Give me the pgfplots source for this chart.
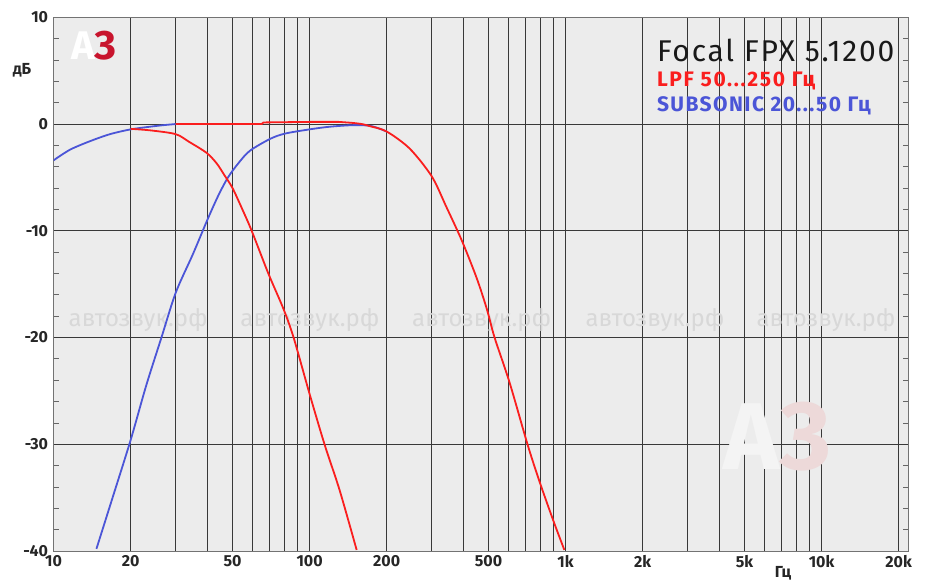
\documentclass[border=0pt]{standalone}
\usepackage{pgfplots}
\pgfplotsset{compat=1.18}
\usepackage{fontspec}
\setmainfont{Fira Sans}
\definecolor{bg}{RGB}{236,236,236}
\definecolor{cred}{RGB}{250,30,30}
\definecolor{cblue}{RGB}{75,85,215}
\definecolor{wm}{RGB}{216,216,216}
\definecolor{logored}{RGB}{200,20,45}
\begin{document}
\begin{tikzpicture}
\begin{axis}[
  scale only axis, width=854.4pt, height=533.7pt,
  xmode=log, xmin=10, xmax=21760, ymin=-40, ymax=10,
  axis background/.style={fill=bg},
  xtick={10,20,30,40,50,60,70,80,90,100,200,300,400,500,600,700,800,900,1000,2000,3000,4000,5000,6000,7000,8000,9000,10000,20000},
  xticklabels={10,20,,,50,,,,,100,200,,,500,,,,,1k,2k,,,5k,,,,,10k,20k},
  minor xtick={},
  ytick={-40,-30,-20,-10,0,10},
  yticklabels={-40,-30,-20,-10,0,10},
  minor y tick num=4,
  tick align=inside,
  major tick length=0pt, minor tick length=5pt,
  xmajorgrids, ymajorgrids,
  major grid style={black!78, line width=0.9pt},
  minor tick style={black!60, line width=0.8pt},
  axis line style={black!55, line width=1pt},
  tick label style={font=\fontsize{16}{16}\selectfont\bfseries, text=black!85},
  yticklabel style={xshift=-2pt},
  xticklabel style={yshift=-1pt},
  clip=true,
]
\node[text=wm, font=\fontsize{24}{24}\selectfont] at (rel axis cs:0.099,0.433) {автозвук.рф};
\node[text=wm, font=\fontsize{24}{24}\selectfont] at (rel axis cs:0.300,0.433) {автозвук.рф};
\node[text=wm, font=\fontsize{24}{24}\selectfont] at (rel axis cs:0.501,0.433) {автозвук.рф};
\node[text=wm, font=\fontsize{24}{24}\selectfont] at (rel axis cs:0.704,0.433) {автозвук.рф};
\node[text=wm, font=\fontsize{24}{24}\selectfont] at (rel axis cs:0.904,0.433) {автозвук.рф};
\node[text=white!40!bg, font=\fontsize{95}{95}\selectfont\bfseries] at (rel axis cs:0.847,0.214) {A\textcolor{red!8!bg}{З}};

\addplot[cblue, line width=1.8pt, smooth] coordinates {
(10,-3.4) (11.6,-2.4) (13.9,-1.6) (16.6,-0.95) (20,-0.5) (23.8,-0.25) (27,-0.1) (30,0)
};
\addplot[cblue, line width=1.8pt, smooth] coordinates {
(14.7,-39.8) (17,-35) (20,-29.6) (23,-24.5) (26.3,-20.1) (30,-15.8) (35,-12.2) (40,-8.9) (44,-6.7) (48,-5.0) (53,-3.6) (58.5,-2.5) (70,-1.4) (80,-0.9) (100,-0.5) (120,-0.25) (150,-0.1) (175,-0.2) (200,-0.7)
};
\addplot[cred, line width=1.8pt, smooth] coordinates {
(20,-0.45) (24,-0.6) (30,-0.95) (34,-1.7) (39.6,-2.7) (43.4,-3.7) (46.5,-4.8) (50,-6.0) (54.4,-7.9) (59.4,-10.0) (69,-14.0) (79,-17.3) (86.6,-20) (100.3,-25.4) (114.7,-30.1) (131,-34.3) (152.7,-39.9)
};
\addplot[cred, line width=1.8pt] coordinates {
(30,0) (65,0) (66,0.15) (100,0.2) (130,0.2) (145,0.12)
};
\addplot[cred, line width=1.8pt, smooth] coordinates {
(145,0.12) (160,0) (172,-0.2) (200,-0.7) (246,-2.3) (300,-4.9) (342,-7.75) (393,-10.9) (449,-14.4) (492,-17.3) (528,-20.0) (604,-24.2) (712,-30.1) (794,-33.6) (897,-37.2) (989,-39.9)
};

\node[anchor=base west, inner sep=0pt, font=\fontsize{30}{30}\selectfont\addfontfeatures{LetterSpace=6}, text=black!90] at (rel axis cs:0.706,0.918) {Focal FPX 5.1200};
\node[anchor=base west, inner sep=0pt, font=\fontsize{21}{21}\selectfont\bfseries\addfontfeatures{LetterSpace=8}, text=cred] at (rel axis cs:0.706,0.871) {LPF 50...250 Гц};
\node[anchor=base west, inner sep=0pt, font=\fontsize{21}{21}\selectfont\bfseries\addfontfeatures{LetterSpace=7}, text=cblue] at (rel axis cs:0.706,0.824) {SUBSONIC 20...50 Гц};
\node[font=\fontsize{40}{40}\selectfont\bfseries, text=white] at (rel axis cs:0.047,0.946) {A\textcolor{logored}{З}};
\end{axis}
\node[font=\fontsize{16}{16}\selectfont\bfseries, text=black!85] at ([xshift=-31.6pt,yshift=481pt]current axis.south west) {дБ};
\node[font=\fontsize{16}{16}\selectfont\bfseries, text=black!85] at ([xshift=729.4pt,yshift=-22pt]current axis.south west) {Гц};
\pgfresetboundingbox
\path[use as bounding box] ([xshift=-53.6pt,yshift=-32pt]current axis.south west) rectangle ++(925pt,583pt);
\end{tikzpicture}
\end{document}
